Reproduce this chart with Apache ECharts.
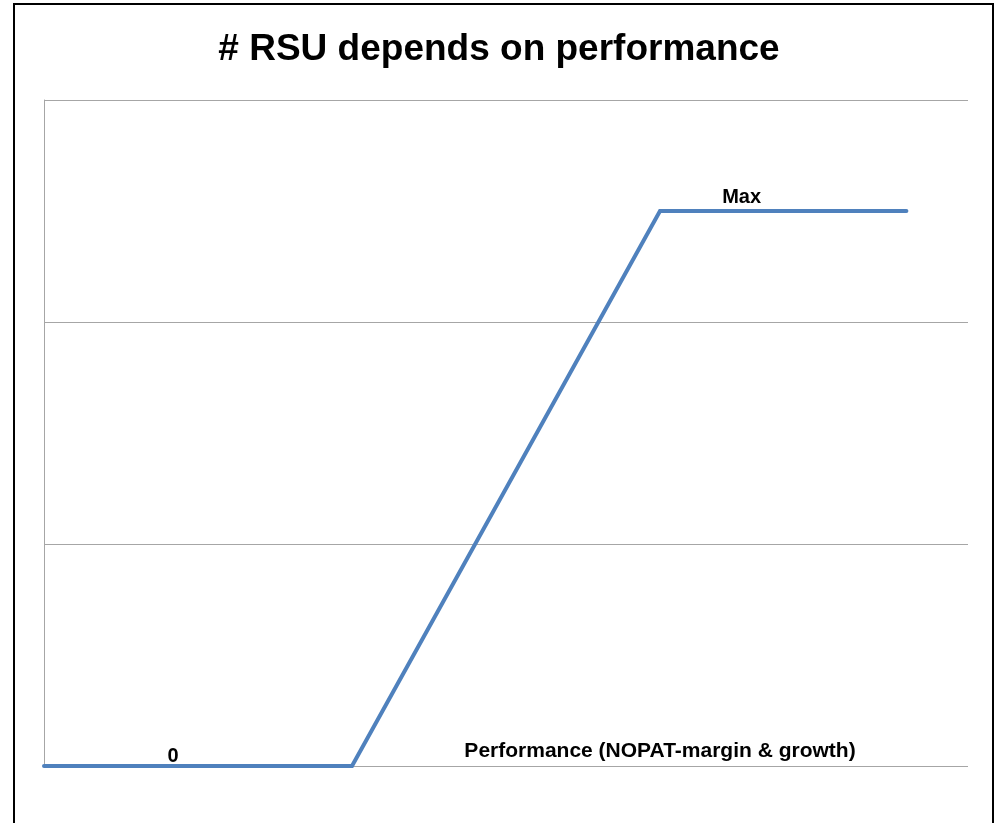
<!DOCTYPE html>
<html>
<head>
<meta charset="UTF-8">
<title># RSU depends on performance</title>
<script src="https://cdn.jsdelivr.net/npm/echarts@6/dist/echarts.min.js"></script>
<style>
    html, body { margin: 0; padding: 0; background: #fff; }
    #main { width: 998px; height: 823px; }
</style>
</head>
<body>
<div id="main"></div>
<script type="text/javascript">
    // performance (x) vs number of RSU (y)
    var perf = [0, 4, 8, 11.2];
    var rsu = [0, 0, 2.5, 2.5];
    var notes = [
        { text: '0', x: 1.675, y: 0, dy: -10 },
        { text: 'Max', x: 9.06, y: 2.5, dy: -14 }
    ];
    var axisTitle = 'Performance (NOPAT-margin & growth)';

    var myChart = echarts.init(document.getElementById('main'));

    var points = perf.map(function (p, i) { return [p, rsu[i]]; });

    var option = {
        backgroundColor: '#fff',
        animation: false,
        title: {
            text: '# RSU depends on performance',
            left: 'center',
            top: 26,
            textStyle: {
                fontFamily: 'Liberation Sans, Arial, sans-serif',
                fontSize: 37,
                fontWeight: 'bold',
                color: '#000'
            }
        },
        grid: { left: 44, right: 30, top: 100, bottom: 57 },
        xAxis: {
            type: 'value',
            min: 0,
            max: 12,
            axisLine: { show: false },
            axisTick: { show: false },
            axisLabel: { show: false },
            splitLine: { show: false }
        },
        yAxis: {
            type: 'value',
            min: 0,
            max: 3,
            interval: 1,
            axisLine: { show: true, lineStyle: { color: '#a6a6a6', width: 1 } },
            axisTick: { show: false },
            axisLabel: { show: false },
            splitLine: { show: true, lineStyle: { color: '#a6a6a6', width: 1 } }
        },
        graphic: [
            {
                type: 'rect',
                shape: { x: 14, y: 4, width: 979, height: 840 },
                style: { fill: 'none', stroke: '#000', lineWidth: 2 },
                silent: true
            },
            {
                type: 'text',
                x: 660,
                y: 751,
                style: {
                    text: axisTitle,
                    fontFamily: 'Liberation Sans, Arial, sans-serif',
                    fontSize: 21,
                    fontWeight: 'bold',
                    fill: '#000',
                    align: 'center',
                    verticalAlign: 'middle'
                }
            }
        ],
        series: [
            {
                type: 'line',
                data: points,
                symbol: 'none',
                lineStyle: { color: '#4f81bd', width: 4, cap: 'round', join: 'miter' },
                markPoint: {
                    symbolSize: 0,
                    label: {
                        show: true,
                        fontFamily: 'Liberation Sans, Arial, sans-serif',
                        fontSize: 20,
                        fontWeight: 'bold',
                        color: '#000',
                        formatter: function (p) { return p.name; }
                    },
                    data: notes.map(function (n) {
                        return { name: n.text, coord: [n.x, n.y], label: { offset: [0, n.dy] } };
                    })
                }
            }
        ]
    };
    myChart.setOption(option);
</script>
</body>
</html>
